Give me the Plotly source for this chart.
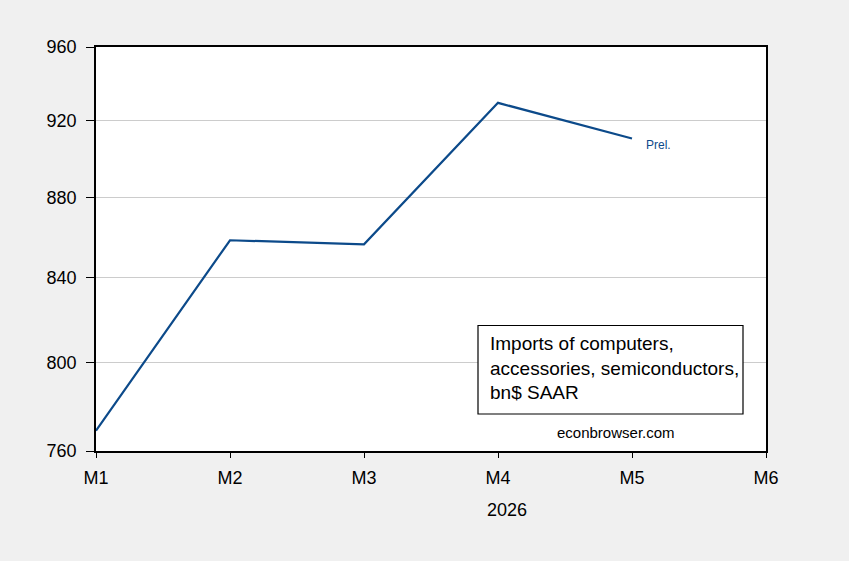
import math
import plotly.graph_objects as go

# monthly values, bn$ SAAR
months = ["M1", "M2", "M3", "M4", "M5"]
all_months = ["M1", "M2", "M3", "M4", "M5", "M6"]
imports = [769, 858.5, 856.5, 929.5, 910.5]
y_ticks = [760, 800, 840, 880, 920, 960]

LINE_BLUE = "#0c4a8a"
FONT = "Liberation Sans, Arial, sans-serif"

fig = go.Figure()
fig.add_trace(go.Scatter(
    x=months, y=imports, mode="lines",
    line=dict(color=LINE_BLUE, width=2.2),
    showlegend=False, hoverinfo="skip",
))

fig.update_layout(
    width=849, height=561,
    paper_bgcolor="#f0f0f0", plot_bgcolor="white",
    margin=dict(l=96, r=83, t=47, b=110),
    font=dict(family=FONT, size=18, color="black"),
    showlegend=False,
)

fig.update_xaxes(
    type="category", categoryorder="array", categoryarray=all_months,
    range=[0, 5], showgrid=False, zeroline=False,
    showline=True, linecolor="black", linewidth=1.5, mirror=True,
    ticks="outside", ticklen=5, tickcolor="black", tickwidth=1,
    tickfont=dict(size=18), ticklabelstandoff=5,
)
fig.update_yaxes(
    type="log", range=[math.log10(760), math.log10(960)],
    tickvals=y_ticks, ticktext=[str(v) for v in y_ticks],
    showgrid=True, gridcolor="#cccccc", gridwidth=1, zeroline=False,
    showline=True, linecolor="black", linewidth=1.5, mirror=True,
    ticks="outside", ticklen=8, tickcolor="black", tickwidth=1,
    tickfont=dict(size=18), ticklabelstandoff=6,
)

# "Prel." label next to the last point
fig.add_annotation(
    x=months[-1], y=math.log10(imports[-1]), xref="x", yref="y",
    text="Prel.", showarrow=False, xanchor="left", yanchor="middle",
    xshift=12, yshift=-6, font=dict(size=12, color=LINE_BLUE),
)

# boxed description
fig.add_shape(
    type="rect", xref="paper", yref="paper",
    x0=(478 - 96) / 670, x1=(743 - 96) / 670,
    y0=(451 - 414) / 404, y1=(451 - 325.5) / 404,
    line=dict(color="black", width=1.2), fillcolor="white", layer="above",
)
fig.add_annotation(
    xref="paper", yref="paper",
    x=(488 - 96) / 670, y=(451 - 331) / 404,
    text="Imports of computers,<br>accessories, semiconductors,<br>bn$ SAAR",
    showarrow=False, xanchor="left", yanchor="top", align="left",
    font=dict(size=19, color="black"),
)
fig.add_annotation(
    xref="paper", yref="paper",
    x=(616 - 96) / 670, y=(451 - 432) / 404,
    text="econbrowser.com", showarrow=False,
    xanchor="center", yanchor="middle", font=dict(size=15, color="black"),
)

# year label under the month ticks
fig.add_annotation(
    xref="paper", yref="paper",
    x=(507 - 96) / 670, y=-(510 - 451) / 404,
    text="2026", showarrow=False, xanchor="center", yanchor="middle",
    font=dict(size=18, color="black"),
)

fig.write_html("out.html", config={"displayModeBar": False},
               post_script="document.body.style.margin='0';")
